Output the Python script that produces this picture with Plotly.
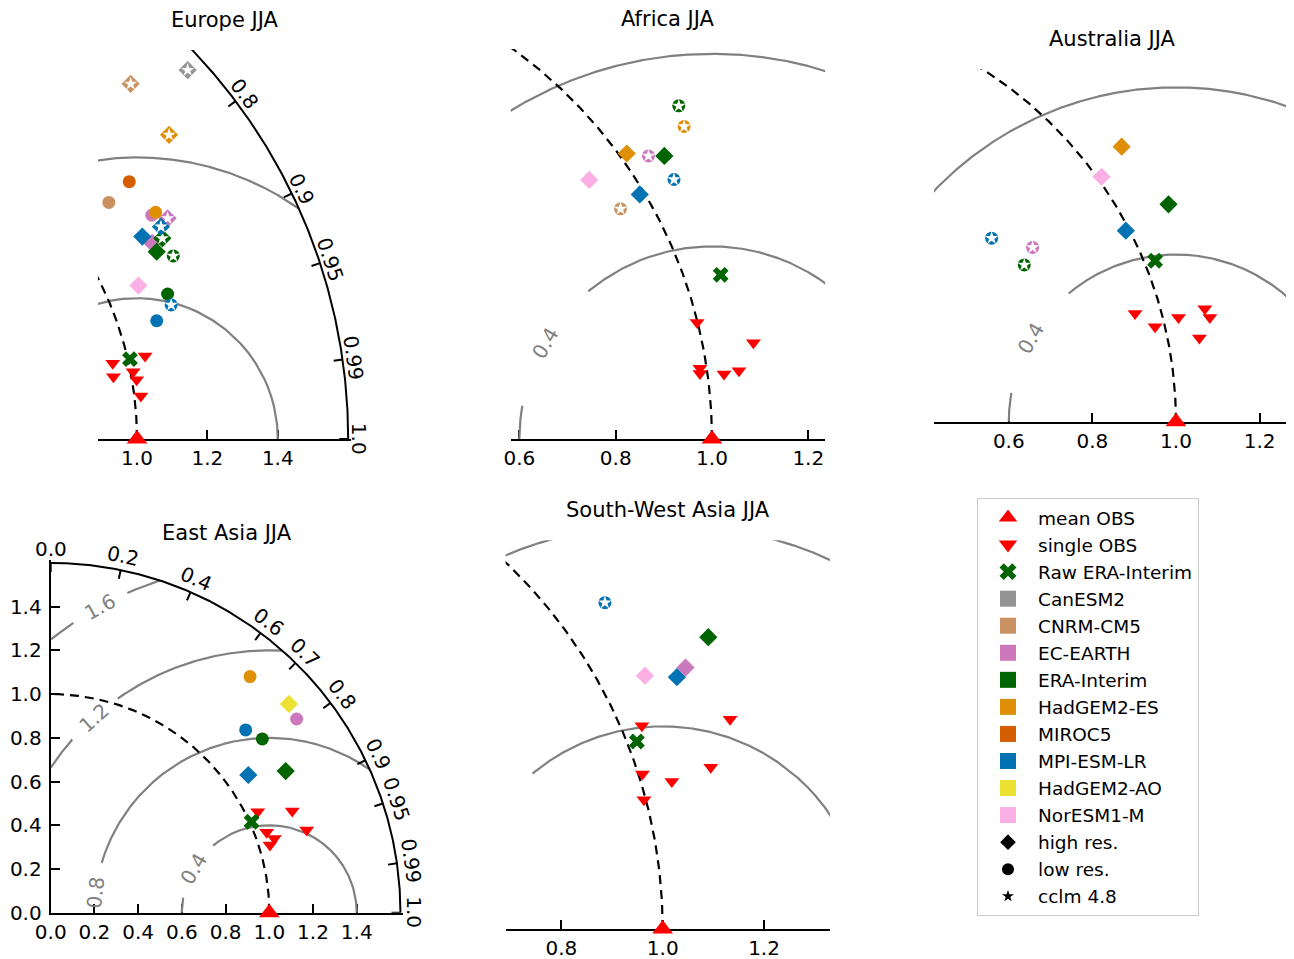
import numpy as np
import plotly.graph_objects as go

W, H = 1294, 959
OFF = 8.0           # page body margin of the browser (pixels)
FONT = "DejaVu Sans"

# ---------------------------------------------------------------- categories
MODELS = ["CanESM2", "CNRM-CM5", "EC-EARTH", "ERA-Interim", "HadGEM2-ES",
          "MIROC5", "MPI-ESM-LR", "HadGEM2-AO", "NorESM1-M"]
MODEL_COLORS = ["#949494", "#CA9161", "#CC78BC", "#006400", "#DE8F05",
                "#D55E00", "#0173B2", "#ECE133", "#FBAFE4"]
KINDS = ["hi", "lo", "hi_cclm", "lo_cclm"]
OBS_COLOR = "#FF0000"
RAW_COLOR = "#006400"

# Taylor-diagram axes
CORR_TICKS = [0.0, 0.2, 0.4, 0.6, 0.7, 0.8, 0.9, 0.95, 0.99, 1.0]
CORR_TEXT = ["0.0", "0.2", "0.4", "0.6", "0.7", "0.8", "0.9", "0.95", "0.99", "1.0"]
RMS_LEVELS = [0.4, 0.8, 1.2, 1.6]
RMS_TEXT = ["0.4", "0.8", "1.2", "1.6"]
RMS_LABEL_ANGLE = [150.0, 173.5, 132.0, 119.0]   # position of inline contour labels
STD_MAX = 1.6
REF_STD = 1.0

# ---------------------------------------------------------------- Europe JJA
eur_model = ["CanESM2", "CNRM-CM5", "HadGEM2-ES", "MIROC5", "CNRM-CM5", "EC-EARTH",
             "HadGEM2-ES", "EC-EARTH", "MPI-ESM-LR", "MPI-ESM-LR", "EC-EARTH",
             "ERA-Interim", "ERA-Interim", "ERA-Interim", "NorESM1-M", "ERA-Interim",
             "MPI-ESM-LR", "MPI-ESM-LR"]
eur_kind = ["hi_cclm", "hi_cclm", "hi_cclm", "lo", "lo", "lo",
            "lo", "hi_cclm", "hi_cclm", "hi", "hi",
            "hi_cclm", "hi", "lo_cclm", "hi", "lo",
            "lo_cclm", "lo"]
eur_x = [1.144, 0.982, 1.091, 0.978, 0.920, 1.042, 1.053, 1.087, 1.068, 1.015, 1.043,
         1.072, 1.056, 1.103, 1.004, 1.087, 1.097, 1.056]
eur_y = [1.048, 1.009, 0.864, 0.731, 0.672, 0.636, 0.644, 0.627, 0.603, 0.575, 0.557,
         0.570, 0.532, 0.520, 0.436, 0.412, 0.381, 0.336]
eur_obs_x = [0.931, 0.933, 1.023, 0.989, 0.999, 1.011]
eur_obs_y = [0.215, 0.177, 0.236, 0.191, 0.168, 0.122]
eur_raw_x = [0.980]
eur_raw_y = [0.227]

# ---------------------------------------------------------------- Africa JJA
afr_model = ["ERA-Interim", "HadGEM2-ES", "HadGEM2-ES", "EC-EARTH", "ERA-Interim",
             "NorESM1-M", "MPI-ESM-LR", "MPI-ESM-LR", "CNRM-CM5"]
afr_kind = ["lo_cclm", "lo_cclm", "hi", "lo_cclm", "hi", "hi", "lo_cclm", "hi", "lo_cclm"]
afr_x = [0.931, 0.942, 0.823, 0.868, 0.901, 0.745, 0.921, 0.850, 0.810]
afr_y = [0.692, 0.649, 0.593, 0.588, 0.588, 0.538, 0.539, 0.508, 0.478]
afr_obs_x = [0.969, 1.086, 0.975, 0.975, 1.025, 1.056]
afr_obs_y = [0.242, 0.200, 0.147, 0.136, 0.135, 0.142]
afr_raw_x = [1.018]
afr_raw_y = [0.341]

# ---------------------------------------------------------------- Australia JJA
aus_model = ["HadGEM2-ES", "NorESM1-M", "ERA-Interim", "MPI-ESM-LR", "MPI-ESM-LR",
             "EC-EARTH", "ERA-Interim"]
aus_kind = ["hi", "hi", "hi", "hi", "lo_cclm", "lo_cclm", "lo_cclm"]
aus_x = [0.870, 0.822, 0.982, 0.880, 0.559, 0.657, 0.637]
aus_y = [0.658, 0.586, 0.520, 0.457, 0.439, 0.417, 0.375]
aus_obs_x = [0.902, 0.950, 1.006, 1.069, 1.081, 1.056]
aus_obs_y = [0.259, 0.227, 0.249, 0.270, 0.249, 0.200]
aus_raw_x = [0.950]
aus_raw_y = [0.385]

# ---------------------------------------------------------------- East Asia JJA
eas_model = ["HadGEM2-ES", "HadGEM2-AO", "EC-EARTH", "MPI-ESM-LR", "ERA-Interim",
             "MPI-ESM-LR", "ERA-Interim"]
eas_kind = ["lo", "hi", "lo", "lo", "lo", "hi", "hi"]
eas_x = [0.912, 1.090, 1.125, 0.892, 0.968, 0.904, 1.075]
eas_y = [1.080, 0.955, 0.886, 0.836, 0.795, 0.630, 0.648]
eas_obs_x = [0.947, 1.105, 1.171, 0.988, 1.023, 1.003]
eas_obs_y = [0.462, 0.465, 0.378, 0.368, 0.340, 0.310]
eas_raw_x = [0.919]
eas_raw_y = [0.416]

# ---------------------------------------------------------------- South-West Asia JJA
swa_model = ["MPI-ESM-LR", "ERA-Interim", "EC-EARTH", "MPI-ESM-LR", "NorESM1-M"]
swa_kind = ["lo_cclm", "hi", "hi", "hi", "hi"]
swa_x = [0.886, 1.090, 1.045, 1.028, 0.965]
swa_y = [0.644, 0.576, 0.516, 0.497, 0.500]
swa_obs_x = [0.959, 1.133, 0.960, 1.095, 1.018, 0.963]
swa_obs_y = [0.401, 0.414, 0.306, 0.319, 0.291, 0.255]
swa_raw_x = [0.949]
swa_raw_y = [0.370]

STD_TICKS_FULL = [0.0, 0.2, 0.4, 0.6, 0.8, 1.0, 1.2, 1.4]

# ---------------------------------------------------------------- panel layout (page pixels)
PANELS = [
    dict(title="Europe JJA", scale=352.0, xref=(1.0, 137.0), y0=439.0,
         xr=(0.889, 1.6), yr=(0.0, 1.105), pad=(0, 3), xt=[1.0, 1.2, 1.4], yt=None,
         laboff=11, data=(eur_model, eur_kind, eur_x, eur_y, eur_obs_x, eur_obs_y, eur_raw_x, eur_raw_y)),
    dict(title="Africa JJA", scale=481.5, xref=(1.0, 712.0), y0=439.0,
         xr=(0.582, 1.235), yr=(0.0, 0.81), pad=(0, 0), xt=[0.6, 0.8, 1.0, 1.2], yt=None,
         laboff=11, data=(afr_model, afr_kind, afr_x, afr_y, afr_obs_x, afr_obs_y, afr_raw_x, afr_raw_y)),
    dict(title="Australia JJA", scale=418.0, xref=(1.0, 1176.0), y0=421.7,
         xr=(0.421, 1.273), yr=(0.0, 0.844), pad=(0, 0), xt=[0.6, 0.8, 1.0, 1.2], yt=None,
         laboff=11, data=(aus_model, aus_kind, aus_x, aus_y, aus_obs_x, aus_obs_y, aus_raw_x, aus_raw_y)),
    dict(title="East Asia JJA", scale=218.6, xref=(0.0, 50.7), y0=912.7,
         xr=(0.0, 1.6), yr=(0.0, 1.6), pad=(3, 3), xt=STD_TICKS_FULL, yt=STD_TICKS_FULL,
         laboff=14, data=(eas_model, eas_kind, eas_x, eas_y, eas_obs_x, eas_obs_y, eas_raw_x, eas_raw_y)),
    dict(title="South-West Asia JJA", scale=506.7, xref=(1.0, 662.7), y0=929.0,
         xr=(0.69, 1.33), yr=(0.0, 0.767), pad=(0, 0), xt=[0.8, 1.0, 1.2], yt=None,
         laboff=11, data=(swa_model, swa_kind, swa_x, swa_y, swa_obs_x, swa_obs_y, swa_raw_x, swa_raw_y)),
]


def masked_line(x, y, keep):
    X, Y = [], []
    prev = False
    for xi, yi, k in zip(x, y, keep):
        if k:
            X.append(float(xi))
            Y.append(float(yi))
        elif prev:
            X.append(None)
            Y.append(None)
        prev = bool(k)
    return X, Y


fig = go.Figure()

# ---------------------------------------------------------------- legend entries
def legend_entry(name, symbol, color, size):
    fig.add_trace(go.Scatter(x=[None], y=[None], mode="markers", name=name,
                             marker=dict(symbol=symbol, color=color, size=size, line=dict(width=0)),
                             showlegend=True, hoverinfo="skip"))

legend_entry("mean OBS", "triangle-up", OBS_COLOR, 16)
legend_entry("single OBS", "triangle-down", OBS_COLOR, 16)
legend_entry("Raw ERA-Interim", "x", RAW_COLOR, 15)
for m, c in zip(MODELS, MODEL_COLORS):
    legend_entry(m, "square", c, 16)
legend_entry("high res.", "diamond", "black", 12)
legend_entry("low res.", "circle", "black", 12)
legend_entry("cclm 4.8", "star", "black", 9)

annotations = []
layout_axes = {}

for i, P in enumerate(PANELS, start=1):
    xa = "x" if i == 1 else f"x{i}"
    ya = "y" if i == 1 else f"y{i}"
    s = P["scale"]
    xd, xpx = P["xref"]
    xpx -= OFF
    y0px = P["y0"] - OFF
    pad_t, pad_r = P["pad"]
    x0, x1 = P["xr"]
    y0r, y1 = P["yr"]
    x1e = x1 + pad_r / s
    y1e = y1 + pad_t / s
    left = xpx + (x0 - xd) * s
    right = xpx + (x1e - xd) * s
    bottom = y0px
    top = y0px - y1e * s

    def to_paper(dx, dy):
        return (xpx + (dx - xd) * s) / W, 1 - (y0px - dy * s) / H

    def inside(px, py):
        return (x0 - 1e-9) <= px <= (x1 + 1e-9) and (y0r - 1e-9) <= py <= (y1 + 1e-9)

    # --- RMS contours (centred on the reference point)
    phi = np.radians(np.linspace(0.0, 180.0, 2881))
    for lev, txt, ang in zip(RMS_LEVELS, RMS_TEXT, RMS_LABEL_ANGLE):
        cx = REF_STD + lev * np.cos(phi)
        cy = lev * np.sin(phi)
        keep = (np.hypot(cx, cy) <= STD_MAX) & (cx >= 0) & (np.abs(phi - np.radians(ang)) > 0.14 / lev)
        X, Y = masked_line(cx, cy, keep)
        fig.add_trace(go.Scatter(x=X, y=Y, mode="lines", line=dict(color="#808080", width=2.2),
                                 xaxis=xa, yaxis=ya, showlegend=False, hoverinfo="skip"))
        lx = REF_STD + lev * np.cos(np.radians(ang))
        ly = lev * np.sin(np.radians(ang))
        if inside(lx, ly):
            annotations.append(dict(x=lx, y=ly, xref=xa, yref=ya, text=txt, showarrow=False,
                                    textangle=90 - ang, xanchor="center", yanchor="middle",
                                    font=dict(family=FONT, size=20, color="#808080")))

    # --- reference std arc (dashed)
    th = np.linspace(0.0, np.pi / 2, 600)
    fig.add_trace(go.Scatter(x=REF_STD * np.cos(th), y=REF_STD * np.sin(th), mode="lines",
                             line=dict(color="black", width=2.2, dash="9px,6px"),
                             xaxis=xa, yaxis=ya, showlegend=False, hoverinfo="skip"))
    # --- outer correlation arc
    fig.add_trace(go.Scatter(x=STD_MAX * np.cos(th), y=STD_MAX * np.sin(th), mode="lines",
                             line=dict(color="black", width=2),
                             xaxis=xa, yaxis=ya, showlegend=False, hoverinfo="skip"))
    # --- correlation ticks & labels
    tl = 9.0 / s
    TX, TY = [], []
    for c, txt in zip(CORR_TICKS, CORR_TEXT):
        t = np.arccos(c)
        px_, py_ = STD_MAX * np.cos(t), STD_MAX * np.sin(t)
        if not inside(px_, py_):
            continue
        TX += [px_, (STD_MAX - tl) * np.cos(t), None]
        TY += [py_, (STD_MAX - tl) * np.sin(t), None]
        rr = STD_MAX + P["laboff"] / s
        ax_, ay_ = to_paper(rr * np.cos(t), rr * np.sin(t))
        annotations.append(dict(x=ax_, y=ay_, xref="paper", yref="paper", text=txt,
                                showarrow=False, textangle=90 - np.degrees(t),
                                xanchor="center", yanchor="middle",
                                font=dict(family=FONT, size=20, color="black")))
    if TX:
        fig.add_trace(go.Scatter(x=TX, y=TY, mode="lines", line=dict(color="black", width=2),
                                 xaxis=xa, yaxis=ya, showlegend=False, hoverinfo="skip"))

    mdl, knd, mx, my, ox, oy, rx, ry = P["data"]

    # --- single observations
    fig.add_trace(go.Scatter(x=ox, y=oy, mode="markers", xaxis=xa, yaxis=ya, showlegend=False,
                             marker=dict(symbol="triangle-down", color=OBS_COLOR, size=13, line=dict(width=0)),
                             cliponaxis=False, hoverinfo="skip"))
    # --- raw ERA-Interim
    fig.add_trace(go.Scatter(x=rx, y=ry, mode="markers", xaxis=xa, yaxis=ya, showlegend=False,
                             marker=dict(symbol="x", color=RAW_COLOR, size=14, line=dict(width=0)),
                             cliponaxis=False, hoverinfo="skip"))
    # --- models
    for m, col in zip(MODELS, MODEL_COLORS):
        for k in KINDS:
            idx = [j for j in range(len(mdl)) if mdl[j] == m and knd[j] == k]
            if not idx:
                continue
            xs = [mx[j] for j in idx]
            ys = [my[j] for j in idx]
            sym = "diamond" if k.startswith("hi") else "circle"
            size = 14 if sym == "diamond" else 13
            fig.add_trace(go.Scatter(x=xs, y=ys, mode="markers", xaxis=xa, yaxis=ya, showlegend=False,
                                     marker=dict(symbol=sym, color=col, size=size, line=dict(width=0)),
                                     cliponaxis=False, hoverinfo="skip"))
            if k.endswith("cclm"):
                fig.add_trace(go.Scatter(x=xs, y=ys, mode="markers", xaxis=xa, yaxis=ya, showlegend=False,
                                         marker=dict(symbol="star", color="white", size=10, line=dict(width=0)),
                                         cliponaxis=False, hoverinfo="skip"))
    # --- mean observation (reference point)
    fig.add_trace(go.Scatter(x=[REF_STD], y=[0.0], mode="markers", xaxis=xa, yaxis=ya, showlegend=False,
                             marker=dict(symbol="triangle-up", color=OBS_COLOR, size=18, line=dict(width=0)),
                             cliponaxis=False, hoverinfo="skip"))

    # --- title
    annotations.append(dict(x=0.5, y=1, xref=f"{xa} domain", yref=f"{ya} domain",
                            text=P["title"], showarrow=False, xanchor="center", yanchor="middle",
                            yshift=30 - pad_t, font=dict(family=FONT, size=21, color="black")))

    xkey = "xaxis" if i == 1 else f"xaxis{i}"
    ykey = "yaxis" if i == 1 else f"yaxis{i}"
    layout_axes[xkey] = dict(
        domain=[left / W, right / W], range=[x0, x1e], anchor=ya, autorange=False,
        automargin=False,
        showgrid=False, zeroline=False, showline=True, linecolor="black", linewidth=2,
        ticks="inside", ticklen=9, tickwidth=2, tickcolor="black",
        tickvals=P["xt"], ticktext=[f"{v:.1f}" for v in P["xt"]],
        tickfont=dict(family=FONT, size=20, color="black"), ticklabelstandoff=0,
        layer="below traces", fixedrange=True)
    if P["yt"] is not None:
        layout_axes[ykey] = dict(
            domain=[(H - bottom) / H, (H - top) / H], range=[y0r, y1e], anchor=xa, autorange=False,
            automargin=False,
            showgrid=False, zeroline=False, showline=True, linecolor="black", linewidth=2,
            ticks="inside", ticklen=9, tickwidth=2, tickcolor="black",
            tickvals=P["yt"], ticktext=[f"{v:.1f}" for v in P["yt"]],
            tickfont=dict(family=FONT, size=20, color="black"), ticklabelstandoff=3,
            layer="below traces", fixedrange=True)
    else:
        layout_axes[ykey] = dict(
            domain=[(H - bottom) / H, (H - top) / H], range=[y0r, y1e], anchor=xa, autorange=False,
            automargin=False, visible=False, showgrid=False, zeroline=False, fixedrange=True)

fig.update_layout(**layout_axes)
fig.update_layout(
    width=W, height=H, autosize=False,
    margin=dict(l=0, r=0, t=0, b=0, pad=0, autoexpand=False),
    paper_bgcolor="white", plot_bgcolor="white",
    annotations=annotations,
    showlegend=True,
    legend=dict(x=(977 - OFF) / W, y=1 - (498 - OFF) / H, xanchor="left", yanchor="top",
                bordercolor="#cccccc", borderwidth=1, bgcolor="white",
                font=dict(family=FONT, size=18.5, color="black"),
                itemwidth=50, traceorder="normal", tracegroupgap=0),
    font=dict(family=FONT),
)

fig.write_html("out.html")
